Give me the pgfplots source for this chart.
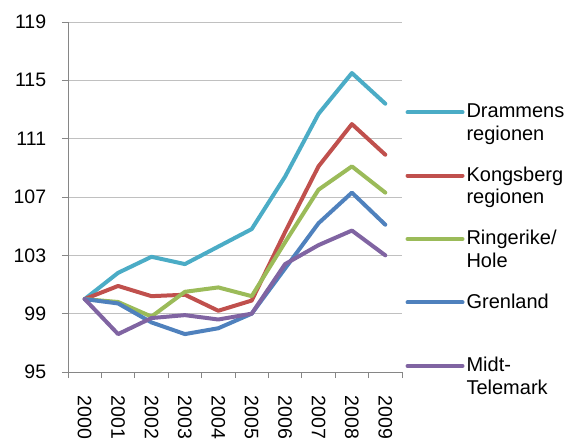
\documentclass[border=0pt]{standalone}
\usepackage{fontspec}
\setmainfont{Liberation Sans}
\usepackage{pgfplots}
\pgfplotsset{compat=1.18}
\definecolor{cDram}{HTML}{4BACC6}
\definecolor{cKong}{HTML}{C0504D}
\definecolor{cRing}{HTML}{9BBB59}
\definecolor{cGren}{HTML}{4F81BD}
\definecolor{cMidt}{HTML}{8064A2}
\definecolor{axisgray}{HTML}{868686}
\definecolor{gridgray}{HTML}{C0C0C0}
\begin{document}
\fontsize{20}{22.5}\selectfont
\begin{tikzpicture}
\begin{axis}[
  at={(0,0)}, anchor=south west,
  scale only axis, width=334pt, height=350pt,
  xmin=0, xmax=10, ymin=95, ymax=119,
  axis lines*=left,
  axis line style={color=axisgray, line width=0.8pt},
  xtick={0,...,10}, xticklabels={},
  extra x ticks={0.5,1.5,...,9.5},
  extra x tick labels={2000,2001,2002,2003,2004,2005,2006,2007,2008,2009},
  extra x tick style={major tick length=0pt,
    xticklabel style={rotate=-90, anchor=west, xshift=17pt}},
  ytick={95,99,...,119},
  yticklabel style={xshift=-9pt},
  ymajorgrids, grid style={color=gridgray, line width=0.8pt},
  tick align=outside, major tick length=6pt,
  tick style={color=axisgray, line width=0.8pt},
  /pgf/number format/assume math mode=true,
  ticklabel style={font=\fontsize{19.5}{22}\selectfont},
  every axis plot/.append style={line width=4pt, line cap=round, line join=round},
  legend style={draw=none, fill=none, at={(1.01,0.772)}, anchor=north west,
    cells={anchor=west, align=left}, row sep=19.5pt, inner sep=0pt,
    font=\fontsize{20}{22.5}\selectfont},
  legend image code/.code={\draw[#1] (0pt,11.25pt) -- (55pt,11.25pt);},
]
\addplot[color=cDram] coordinates {(0.5,100.0) (1.5,101.8) (2.5,102.9) (3.5,102.4) (4.5,103.6) (5.5,104.8) (6.5,108.4) (7.5,112.7) (8.5,115.5) (9.5,113.4)};
\addlegendentry{Drammens\\regionen}
\addplot[color=cKong] coordinates {(0.5,100.0) (1.5,100.9) (2.5,100.2) (3.5,100.3) (4.5,99.2) (5.5,99.9) (6.5,104.6) (7.5,109.1) (8.5,112.0) (9.5,109.9)};
\addlegendentry{Kongsberg\\regionen}
\addplot[color=cRing] coordinates {(0.5,100.0) (1.5,99.8) (2.5,98.8) (3.5,100.5) (4.5,100.8) (5.5,100.2) (6.5,103.9) (7.5,107.5) (8.5,109.1) (9.5,107.3)};
\addlegendentry{Ringerike/\\Hole}
\addplot[color=cGren] coordinates {(0.5,100.0) (1.5,99.7) (2.5,98.4) (3.5,97.6) (4.5,98.0) (5.5,99.0) (6.5,102.1) (7.5,105.2) (8.5,107.3) (9.5,105.1)};
\addlegendentry{Grenland\\\mbox{}}
\addplot[color=cMidt] coordinates {(0.5,100.0) (1.5,97.6) (2.5,98.7) (3.5,98.9) (4.5,98.6) (5.5,99.0) (6.5,102.4) (7.5,103.7) (8.5,104.7) (9.5,103.0)};
\addlegendentry{Midt-\\Telemark}
\end{axis}
\path[use as bounding box] (-68pt,-67pt) rectangle (502pt,372pt);
\end{tikzpicture}
\end{document}
